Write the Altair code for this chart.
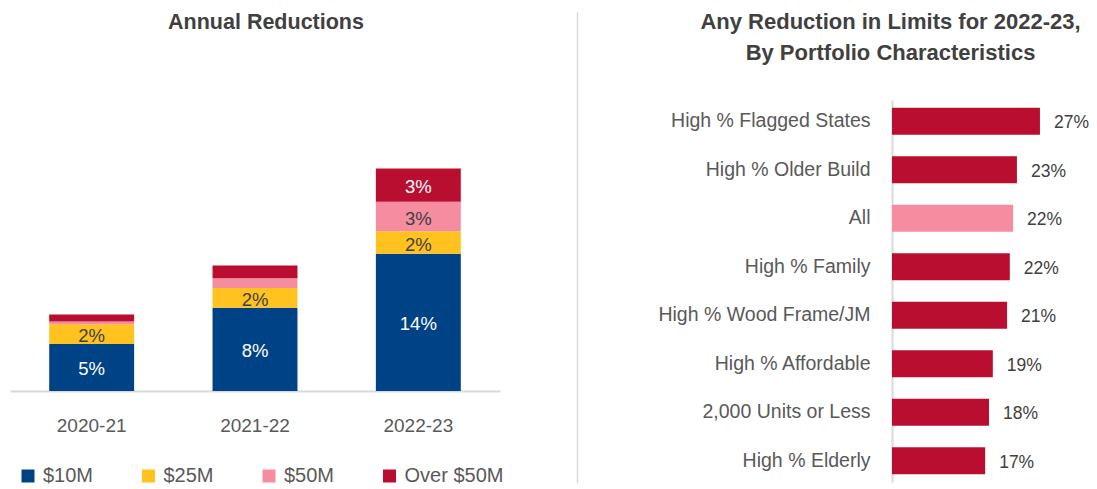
import altair as alt
import pandas as pd

FONT = "Liberation Sans"

# ---- Left chart data: Annual Reductions (stacked, % of limits) ----
years = ["2020-21", "2021-22", "2022-23"]
tiers = ["$10M", "$25M", "$50M", "Over $50M"]
tier_colors = ["#004286", "#FFC21F", "#F58CA0", "#BA0E31"]
tier_text_colors = ["#FFFFFF", "#404040", "#404040", "#FFFFFF"]
share_10m = [4.8, 8.5, 14.0]
share_25m = [2.0, 2.0, 2.3]
share_50m = [0.3, 1.0, 3.0]
share_over = [0.7, 1.3, 3.4]
labels_10m = ["5%", "8%", "14%"]
labels_25m = ["2%", "2%", "2%"]
labels_50m = ["", "", "3%"]
labels_over = ["", "", "3%"]

# ---- Right chart data: Any Reduction in Limits for 2022-23 ----
characteristics = [
    "High % Flagged States",
    "High % Older Build",
    "All",
    "High % Family",
    "High % Wood Frame/JM",
    "High % Affordable",
    "2,000 Units or Less",
    "High %  Elderly",
]
reduction_pct = [27.0, 22.8, 22.1, 21.5, 21.0, 18.4, 17.7, 17.0]
reduction_labels = ["27%", "23%", "22%", "22%", "21%", "19%", "18%", "17%"]
highlight = "All"
bar_red = "#BA0E31"
bar_pink = "#F58CA0"

rows = []
series = [share_10m, share_25m, share_50m, share_over]
series_labels = [labels_10m, labels_25m, labels_50m, labels_over]
for i, yr in enumerate(years):
    for j, t in enumerate(tiers):
        rows.append({"year": yr, "tier": t, "order": j,
                     "value": series[j][i], "label": series_labels[j][i]})
stack_df = pd.DataFrame(rows)

Y_MAX = 29.69
y_scale = alt.Scale(domain=[0, Y_MAX])
x_scale = alt.Scale(paddingInner=0.48, paddingOuter=0.24)

x_year = alt.X(
    "year:N", sort=years, scale=x_scale,
    axis=alt.Axis(title=None, labelAngle=0, labelFontSize=19, labelColor="#595959",
                  labelFont=FONT, ticks=False, domainColor="#D9D9D9", domainWidth=2,
                  labelPadding=25),
)

bars = alt.Chart(stack_df).mark_bar().encode(
    x=x_year,
    y=alt.Y("value:Q", stack="zero", scale=y_scale, axis=None),
    color=alt.Color(
        "tier:N", sort=tiers,
        scale=alt.Scale(domain=tiers, range=tier_colors),
        legend=alt.Legend(
            orient="none", legendX=8, legendY=366, direction="horizontal",
            columns=4, title=None, symbolType="square", symbolSize=169,
            symbolStrokeWidth=0, labelFontSize=20, labelColor="#595959",
            labelFont=FONT, labelOffset=5, columnPadding=44.5, gridAlign="each",
            padding=0,
        ),
    ),
    order=alt.Order("order:Q", sort="ascending"),
)

seg_text = alt.Chart(stack_df).transform_stack(
    stack="value", groupby=["year"], as_=["v0", "v1"],
    sort=[alt.SortField("order", "ascending")],
).transform_calculate(
    mid="(datum.v0 + datum.v1) / 2"
).mark_text(fontSize=18.5, baseline="middle", font=FONT, dy=2).encode(
    x=alt.X("year:N", sort=years, scale=x_scale),
    y=alt.Y("mid:Q", scale=y_scale),
    text="label:N",
    color=alt.Color("tier:N", scale=alt.Scale(domain=tiers, range=tier_text_colors),
                    legend=None),
)

left = alt.layer(bars, seg_text).resolve_scale(color="independent").properties(
    width=490, height=291,
    title=alt.TitleParams("Annual Reductions", fontSize=21.5, fontWeight="bold",
                          color="#404040", font=FONT, anchor="middle", dx=11,
                          offset=66.5),
)

divider = alt.Chart(pd.DataFrame({"d": [0]})).mark_rule(
    color="#D9D9D9", strokeWidth=1.5
).encode(x=alt.value(73.5), y=alt.value(-88), y2=alt.value(383)).properties(
    width=152.5, height=383
)

char_df = pd.DataFrame({"characteristic": characteristics, "pct": reduction_pct,
                        "label": reduction_labels})

y_char = alt.Y(
    "characteristic:N", sort=characteristics,
    scale=alt.Scale(paddingInner=0.443, paddingOuter=0.16),
    axis=alt.Axis(title=None, ticks=False, labelFontSize=19.5, labelColor="#595959",
                  labelFont=FONT, labelPadding=22, domainColor="#D9D9D9",
                  domainWidth=2, labelLimit=0),
)
x_pct = alt.X("pct:Q", scale=alt.Scale(domain=[0, 29.2]), axis=None)

rbars = alt.Chart(char_df).mark_bar().encode(
    y=y_char, x=x_pct,
    color=alt.condition(alt.datum.characteristic == highlight,
                        alt.value(bar_pink), alt.value(bar_red)),
)
rtext = alt.Chart(char_df).mark_text(
    align="left", baseline="middle", dx=14, dy=2, fontSize=17.5, color="#404040", font=FONT
).encode(y=y_char, x=x_pct, text="label:N")

right = alt.layer(rbars, rtext).properties(
    width=160, height=382,
    title=alt.TitleParams(
        "Any Reduction in Limits for 2022-23,",
        subtitle="By Portfolio Characteristics",
        fontSize=22, fontWeight="bold", color="#404040", font=FONT,
        subtitleFontSize=22, subtitleFontWeight="bold", subtitleColor="#404040",
        subtitleFont=FONT, subtitlePadding=8.5,
        anchor="middle", frame="group", dx=-81.5, offset=35.5,
    ),
)

chart = alt.hconcat(left, divider, right, spacing=0).properties(
    padding={"left": 2, "top": 3, "right": 0, "bottom": 0}
).configure(font=FONT).configure_view(stroke=None)

chart.save("out.html", embed_options={"renderer": "svg", "actions": False})
